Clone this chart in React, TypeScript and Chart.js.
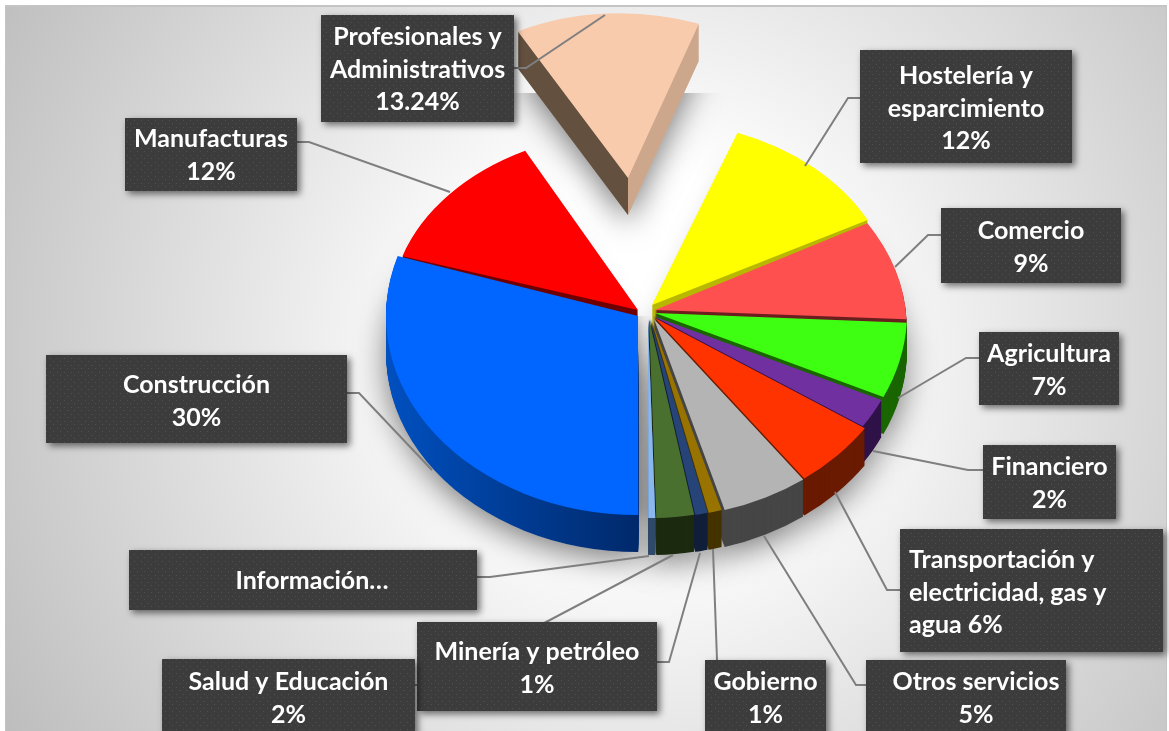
import React, { useEffect, useRef } from "react";
import { Chart, registerables } from "chart.js";

Chart.register(...registerables);

const categories = [
  "Hostelería y esparcimiento",
  "Comercio",
  "Agricultura",
  "Financiero",
  "Transportación y electricidad, gas y agua",
  "Otros servicios",
  "Gobierno",
  "Minería y petróleo",
  "Salud y Educación",
  "Información",
  "Construcción",
  "Manufacturas",
  "Profesionales y Administrativos",
];
const values = [11.6, 8.4, 6.15, 2.4, 5.55, 5.55, 0.85, 0.8, 2.4, 0.45, 29.8, 12.55, 13.24];
const faceColors = ["#ffff00", "#ff5050", "#3eff12", "#7030a0", "#ff3300", "#b4b4b4", "#997300", "#264478", "#4a7030", "#8ab8ee", "#0066ff", "#ff0000", "#f8cbad"];
const wallColors = ["#b8b800", "#6b1f1f", "#1a6600", "#2e1248", "#6a1a00", "#464646", "#443300", "#111f3a", "#1c2a10", "#2f4a68", "#00296b", "#700000", "#63503f"];

// Per-slice placement of the tilted pie: explosion, perspective squash and shear.
const explodeX = [4, 7, 7, 5, 7, 6, 3, 2, 1, 0, -10, -10, -20];
const explodeY = [-10, -5, -2, 1, 3, 4, 4, 4, 4, 4, 1, -5, -137];
const squashX = [0.965, 0.995, 1, 1, 1, 1, 1, 1, 1, 1, 1, 0.98, 0.89];
const squashY = [0.73, 0.745, 0.79, 0.79, 0.79, 0.79, 0.79, 0.79, 0.79, 0.79, 0.79, 0.71, 0.654];
const shearX = [0, 0.085, 0, 0, 0, 0, 0, 0, 0, 0, 0, 0, 0.034];

const labelLines = [
  ["Hostelería y", "esparcimiento", "12%"],
  ["Comercio", "9%"],
  ["Agricultura", "7%"],
  ["Financiero", "2%"],
  ["Transportación y", "electricidad, gas y", "agua 6%"],
  ["Otros servicios", "5%"],
  ["Gobierno", "1%"],
  ["Minería y petróleo", "1%"],
  ["Salud y Educación", "2%"],
  ["Información…"],
  ["Construcción", "30%"],
  ["Manufacturas", "12%"],
  ["Profesionales y", "Administrativos", "13.24%"],
];
// x, y, w, h of each label box
const labelBoxes = [
  [860, 50, 212, 113],
  [941, 208, 180, 75],
  [979, 332, 140, 73],
  [983, 445, 133, 74],
  [900, 529, 263, 123],
  [866, 660, 200, 80],
  [705, 660, 121, 80],
  [417, 622, 240, 89],
  [162, 659, 253, 80],
  [129, 550, 348, 60],
  [46, 355, 301, 88],
  [125, 118, 172, 73],
  [321, 15, 193, 107],
];
const labelTextShift = [0, 0, 0, 0, 0, 10, 0, 0, 0, 9, 0, 0, 0];
const labelFirstBaseline = [84, 239, 362, 475, 568, 690, 690, 660, 690, 589, 393, 147, 45];
const leaders = [
  [[860, 98], [848, 98], [805, 166]],
  [[941, 235], [928, 235], [895, 267]],
  [[979, 358], [966, 358], [898, 398]],
  [[983, 470], [968, 470], [873, 451]],
  [[900, 590], [887, 590], [835, 492]],
  [[866, 685], [856, 685], [764, 536]],
  [[717, 660], [713, 549]],
  [[657, 662], [669, 662], [700, 553]],
  [[415, 685], [427, 685], [673, 555]],
  [[477, 577], [490, 577], [649, 556]],
  [[347, 393], [359, 393], [432, 470]],
  [[297, 142], [309, 142], [450, 192]],
  [[514, 68], [526, 68], [605, 15]],
];

const CENTER_X = 648;
const CENTER_Y = 315;
const DEPTH = 37;
const RADIUS = 252;

function dotPattern(ctx: CanvasRenderingContext2D) {
  const t = document.createElement("canvas");
  t.width = 7;
  t.height = 7;
  const c = t.getContext("2d")!;
  c.fillStyle = "#3c3c3c";
  c.fillRect(0, 0, 7, 7);
  c.fillStyle = "#505050";
  c.fillRect(1, 1, 1, 1);
  c.fillRect(4, 4, 1, 1);
  return ctx.createPattern(t, "repeat")!;
}

const pie3d = {
  id: "pie3d",
  beforeDraw(chart: any) {
    const { ctx, width, height } = chart;
    ctx.save();
    ctx.fillStyle = "#ffffff";
    ctx.fillRect(0, 0, width, height);
    ctx.fillStyle = "#c4c4c4";
    ctx.fillRect(5, 5, width - 7, height);
    const g = ctx.createRadialGradient(640, 350, 180, 640, 350, 760);
    g.addColorStop(0, "#ffffff");
    g.addColorStop(1, "#bbbbbb");
    ctx.fillStyle = g;
    ctx.fillRect(6, 7, width - 9, height);
    ctx.restore();
  },
  beforeDatasetsDraw(chart: any) {
    const { ctx, width, height } = chart;
    const arcs = chart.getDatasetMeta(0).data;
    const place = (arc: any, i: number, d: number) => {
      ctx.translate(CENTER_X + explodeX[i], CENTER_Y + explodeY[i] + d);
      ctx.transform(squashX[i], 0, shearX[i], squashY[i], 0, 0);
      ctx.translate(-arc.x, -arc.y);
    };
    const stamp = (arc: any, i: number, d: number, fill: any) => {
      ctx.save();
      place(arc, i, d);
      const saved = arc.options;
      arc.options = { ...saved, backgroundColor: fill, borderWidth: 0 };
      arc.draw(ctx);
      arc.options = saved;
      ctx.restore();
    };
    // soft shadow
    ctx.save();
    ctx.beginPath();
    ctx.rect(0, 93, width, height);
    ctx.clip();
    ctx.shadowColor = "rgba(0,0,0,0.5)";
    ctx.shadowBlur = 30;
    ctx.shadowOffsetY = 8;
    arcs.forEach((arc: any, i: number) => stamp(arc, i, DEPTH, "#bbbbbb"));
    ctx.restore();
    // shadow inside the narrow gap right of the large blue slice
    ctx.save();
    ctx.beginPath();
    ctx.rect(636, 316, 16, 215);
    ctx.clip();
    ctx.shadowColor = "rgba(0,0,0,0.35)";
    ctx.shadowBlur = 16;
    stamp(arcs[10], 10, 0, "#bbbbbb");
    stamp(arcs[9], 9, 0, "#bbbbbb");
    ctx.restore();
    // slices, far to near
    const order = arcs
      .map((arc: any, i: number) => ({ arc, i, mid: (arc.startAngle + arc.endAngle) / 2 }))
      .sort((a: any, b: any) => Math.sin(a.mid) - Math.sin(b.mid));
    order.forEach(({ arc, i }: any) => {
      let wall: any = wallColors[i];
      if (i === 12) {
        const g = ctx.createLinearGradient(arc.x - 1, 0, arc.x + 1, 0);
        g.addColorStop(0, wallColors[i]);
        g.addColorStop(0.5, wallColors[i]);
        g.addColorStop(0.5, "#cda78c");
        g.addColorStop(1, "#cda78c");
        wall = g;
      } else if (i === 10) {
        const g = ctx.createLinearGradient(arc.x - RADIUS, 0, arc.x, 0);
        g.addColorStop(0, "#0050c0");
        g.addColorStop(1, wallColors[i]);
        wall = g;
      }
      for (let d = DEPTH; d > 0; d--) stamp(arc, i, d, wall);
      stamp(arc, i, 0, faceColors[i]);
    });
    return false;
  },
  afterDraw(chart: any) {
    const { ctx } = chart;
    ctx.save();
    ctx.strokeStyle = "#7f7f7f";
    ctx.lineWidth = 2;
    leaders.forEach((pts) => {
      ctx.beginPath();
      pts.forEach(([x, y], k) => (k ? ctx.lineTo(x, y) : ctx.moveTo(x, y)));
      ctx.stroke();
    });
    const pattern = dotPattern(ctx);
    categories.forEach((_, i) => {
      const [x, y, w, h] = labelBoxes[i];
      ctx.save();
      ctx.shadowColor = "rgba(0,0,0,0.55)";
      ctx.shadowBlur = 7;
      ctx.shadowOffsetX = 3;
      ctx.shadowOffsetY = 3;
      ctx.fillStyle = pattern;
      ctx.fillRect(x, y, w, h);
      ctx.restore();
      ctx.fillStyle = "#ffffff";
      ctx.font = "700 25px Lato";
      const left = i === 4;
      ctx.textAlign = left ? "left" : "center";
      ctx.textBaseline = "alphabetic";
      labelLines[i].forEach((line, k) => {
        ctx.fillText(line, left ? x + 9 : x + w / 2 + labelTextShift[i], labelFirstBaseline[i] + k * 32.5);
      });
    });
    ctx.restore();
  },
};

export default function App() {
  const ref = useRef<HTMLCanvasElement>(null);
  useEffect(() => {
    document.body.style.margin = "0";
    document.body.style.overflow = "hidden";
    const chart = new Chart(ref.current!, {
      type: "pie",
      data: {
        labels: categories,
        datasets: [{ data: values, backgroundColor: faceColors, borderWidth: 0 }],
      },
      options: {
        responsive: false,
        animation: false,
        rotation: 20.6,
        radius: RADIUS,
        layout: { padding: 0 },
        plugins: { legend: { display: false }, tooltip: { enabled: false } },
      },
      plugins: [pie3d],
    } as any);
    return () => chart.destroy();
  }, []);
  return <canvas ref={ref} width={1169} height={731} style={{ display: "block" }} />;
}
